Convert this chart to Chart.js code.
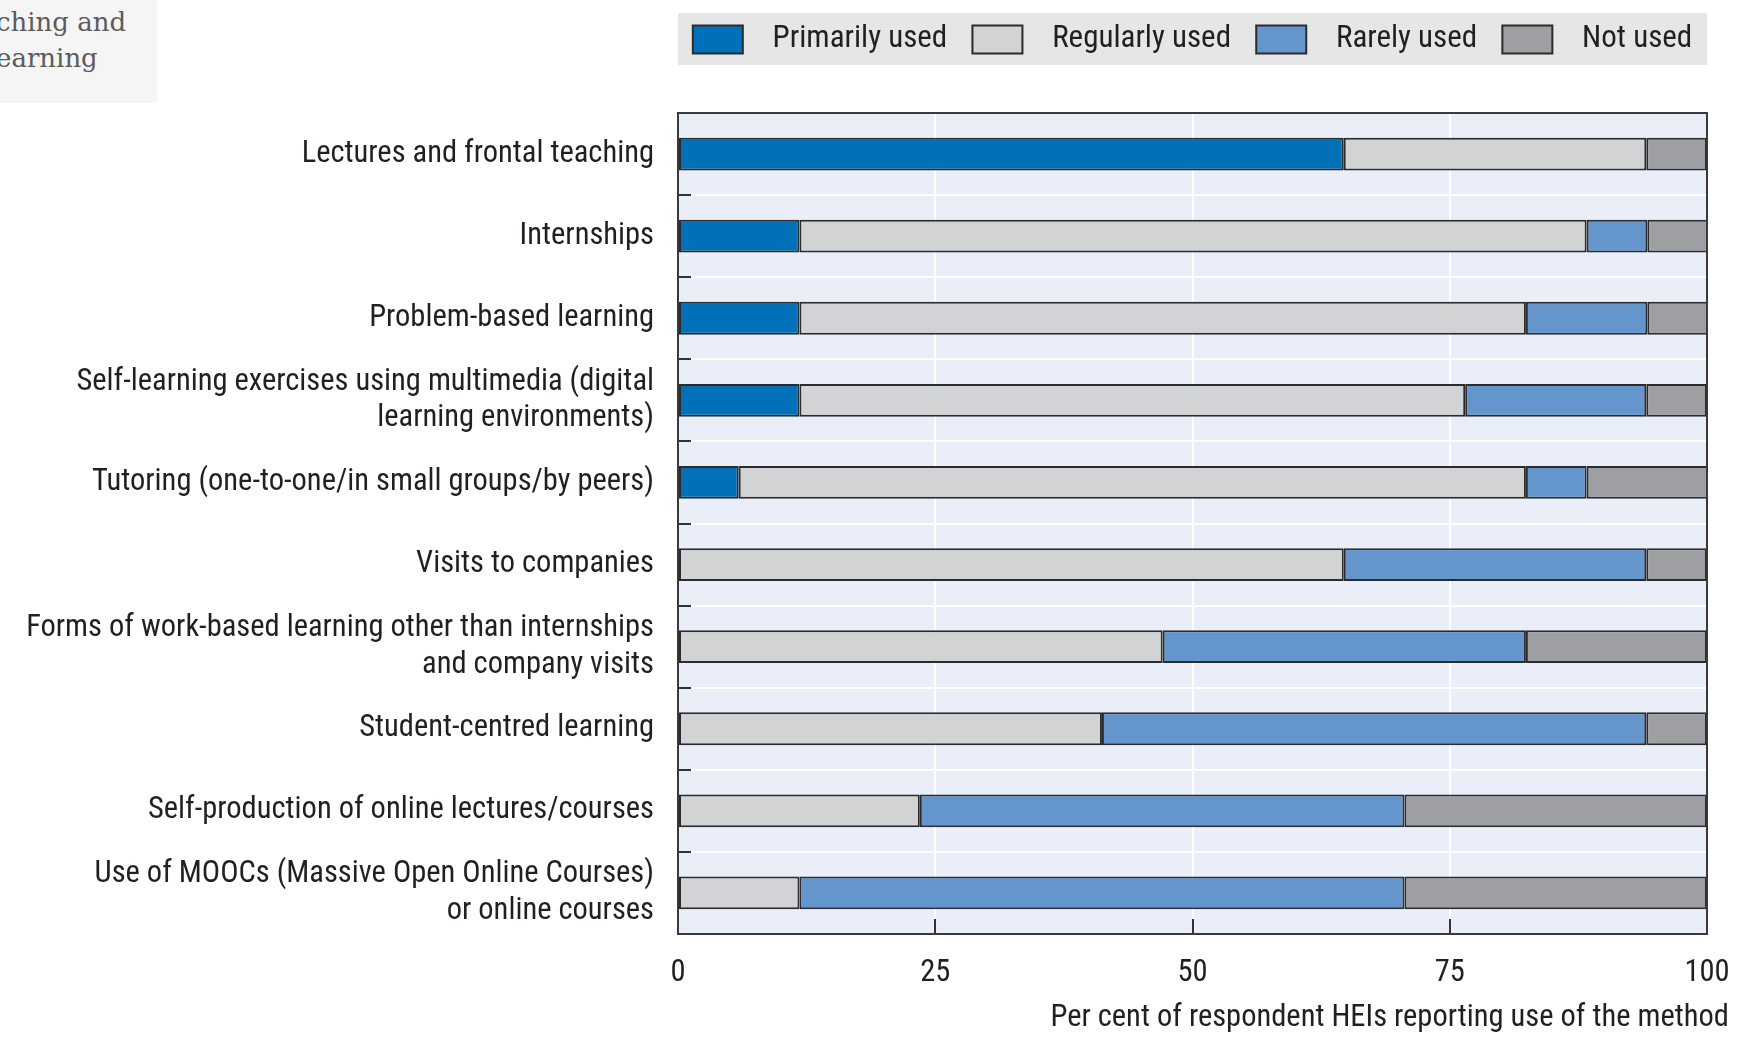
<!DOCTYPE html>
<html>
<head>
<meta charset="utf-8">
<script src="https://cdn.jsdelivr.net/npm/chart.js@4"></script>
<style>
  body { margin: 0; background: #fff; }
  #wrap { position: relative; width: 1749px; height: 1037px; }
  #corner {
    position: absolute; left: 0; top: 0; width: 157px; height: 103px;
    background: #f5f5f5; overflow: hidden;
    font-family: "DejaVu Serif", serif; font-size: 26px; color: #5b5b5b; line-height: 36px;
  }
  #corner span { position: absolute; left: -4px; white-space: nowrap; }
</style>
</head>
<body>
<div id="wrap">
  <canvas id="chartCanvas"></canvas>
  <div id="corner"><span style="top:4px">ching and</span><span style="top:40px">earning</span></div>
</div>
<script>
// kategorier (y-aksen), flere linjer som arrays
const categories = [
  'Lectures and frontal teaching',
  'Internships',
  'Problem-based learning',
  ['Self-learning exercises using multimedia (digital', 'learning environments)'],
  'Tutoring (one-to-one/in small groups/by peers)',
  'Visits to companies',
  ['Forms of work-based learning other than internships', 'and company visits'],
  'Student-centred learning',
  'Self-production of online lectures/courses',
  ['Use of MOOCs (Massive Open Online Courses)', 'or online courses']
]

// procent af HEIs
const primarilyUsed = [64.7, 11.8, 11.8, 11.8, 5.9, 0, 0, 0, 0, 0]
const regularlyUsed = [29.4, 76.5, 70.6, 64.7, 76.5, 64.7, 47.1, 41.2, 23.5, 11.8]
const rarelyUsed    = [0, 5.9, 11.8, 17.6, 5.9, 29.4, 35.3, 52.9, 47.1, 58.8]
const notUsed       = [5.9, 5.9, 5.9, 5.9, 11.8, 5.9, 17.6, 5.9, 29.4, 29.4]

const seriesNames = ['Primarily used', 'Regularly used', 'Rarely used', 'Not used']
const xTicks = [0, 25, 50, 75, 100]
const xTitle = 'Per cent of respondent HEIs reporting use of the method'

const colors = ['#0070b8', '#d2d3d5', '#6495cd', '#9d9fa2']
const fontFamily = '"Roboto Condensed", "Liberation Sans Narrow", "DejaVu Sans Condensed", sans-serif'
const fontSize = 30.5
const textColor = '#231f20'

let chart

// baggrund i plotområdet, grå legend-boks, kant rundt om plottet og aksetitel
const decorations = {
  id: 'decorations',
  beforeInit(c) {
    const legend = c.legend
    const fit = legend.fit
    legend.fit = function () {
      fit.call(legend)
      legend.boxHeightReal = legend.height
      legend.height += 48
    }
  },
  beforeDraw(c) {
    const ctx = c.ctx
    const a = c.chartArea
    const lg = c.legend
    ctx.save()
    ctx.fillStyle = '#e6e6e6'
    ctx.fillRect(lg.left, lg.top, lg.right - lg.left, lg.boxHeightReal)
    ctx.fillStyle = '#e9eef8'
    ctx.fillRect(a.left, a.top, a.right - a.left, a.bottom - a.top)
    ctx.restore()
  },
  afterDatasetsDraw(c) {
    const ctx = c.ctx
    const a = c.chartArea
    ctx.save()
    ctx.strokeStyle = '#3a3a3a'
    ctx.lineWidth = 2
    ctx.strokeRect(a.left, a.top, a.right - a.left, a.bottom - a.top)
    ctx.restore()
  },
  afterDraw(c) {
    // titlen stikker lidt ud til højre for plottet, som i originalen
    const ctx = c.ctx
    const a = c.chartArea
    ctx.save()
    ctx.font = fontSize + 'px ' + fontFamily
    ctx.fillStyle = textColor
    ctx.textAlign = 'right'
    ctx.textBaseline = 'middle'
    ctx.fillText(xTitle, a.right + 22, c.scales.x.bottom - 19)
    ctx.restore()
  }
}

function setup() {
  const series = [primarilyUsed, regularlyUsed, rarelyUsed, notUsed]
  const datasets = series.map((values, i) => ({
    label: seriesNames[i],
    data: values,
    backgroundColor: colors[i],
    borderColor: '#2b2b2b',
    borderWidth: 2,
    borderSkipped: false,
    categoryPercentage: 1,
    barPercentage: 0.4
  }))

  chart = new Chart(document.getElementById('chartCanvas'), {
    type: 'bar',
    data: { labels: categories, datasets: datasets },
    options: {
      indexAxis: 'y',
      responsive: true,
      maintainAspectRatio: false,
      animation: false,
      layout: { padding: { top: 13, left: 0, right: 42, bottom: 0 } },
      scales: {
        x: {
          stacked: true,
          min: 0,
          max: 100,
          afterBuildTicks: scale => { scale.ticks = xTicks.map(v => ({ value: v })) },
          afterFit: scale => {
            scale.height = 103
            scale.paddingLeft = 0
            scale.paddingRight = 0
          },
          grid: { color: '#ffffff', lineWidth: 2, drawTicks: true, tickLength: -15, tickColor: '#333', tickWidth: 2 },
          border: { display: false },
          ticks: { padding: 36, color: textColor, font: { family: fontFamily, size: fontSize } },
          title: { display: false }
        },
        y: {
          stacked: true,
          afterFit: scale => { scale.width = 678 },
          grid: { color: '#ffffff', lineWidth: 2, offset: true, drawTicks: true, tickLength: -13, tickColor: '#333', tickWidth: 2 },
          border: { display: false },
          ticks: { padding: 37, color: textColor, font: { family: fontFamily, size: fontSize, lineHeight: 1.2 } }
        }
      },
      plugins: {
        tooltip: { enabled: false },
        legend: {
          position: 'top',
          fullSize: false,
          labels: {
            boxWidth: 50,
            boxHeight: 28,
            padding: 11,
            color: textColor,
            font: { family: fontFamily, size: 31 },
            generateLabels: c => {
              const items = Chart.defaults.plugins.legend.labels.generateLabels(c)
              items.forEach((item, i) => {
                item.text = '  ' + item.text + (i < items.length - 1 ? '  ' : '')
              })
              return items
            }
          }
        }
      }
    },
    plugins: [decorations]
  })
}

setup()
</script>
</body>
</html>
